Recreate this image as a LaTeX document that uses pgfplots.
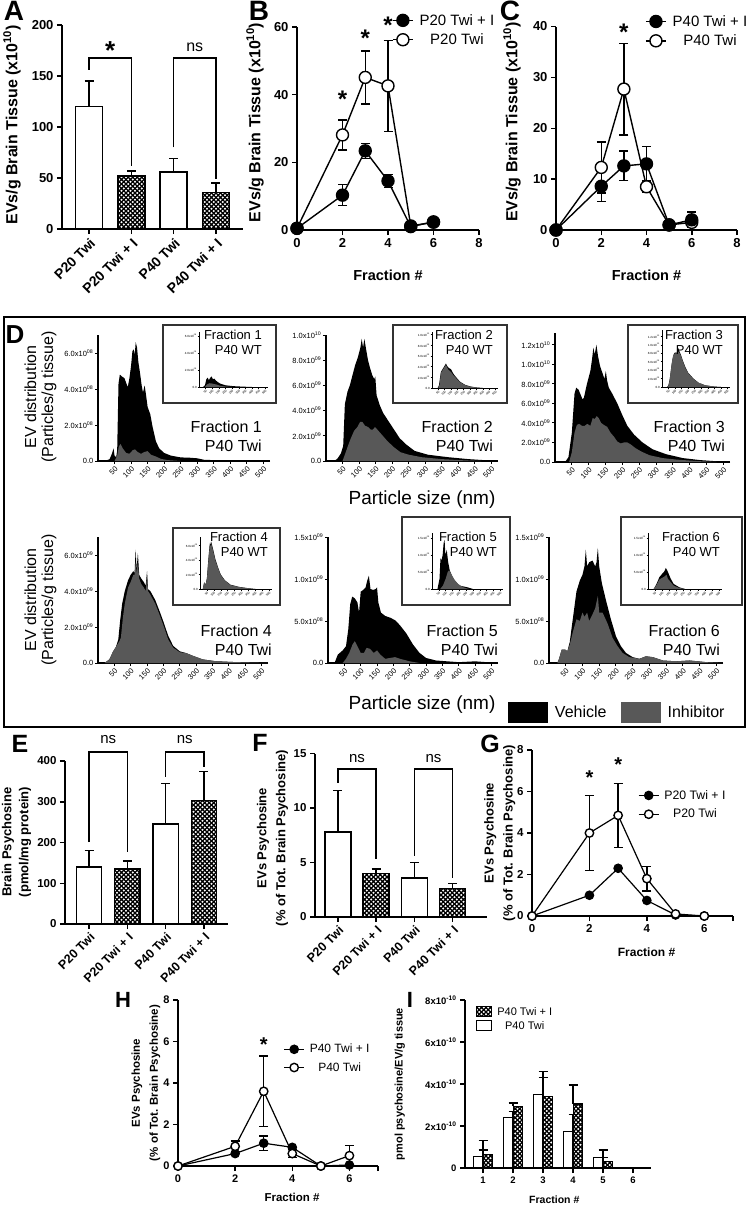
\documentclass[border=0pt]{standalone}
\usepackage{fontspec}
\setmainfont{Liberation Sans}
\usepackage{pgfplots}
\pgfplotsset{compat=1.18}
\usetikzlibrary{patterns}

\definecolor{inh}{RGB}{88,88,88}
\newcommand{\fs}[1]{\fontsize{#1}{#1}\selectfont}
\newcommand{\sci}[2]{#1x10\textsuperscript{#2}}

% black lattice with white diamonds (the "+ I" bars)
\pgfdeclarepatternformonly{diamonds}{\pgfqpoint{-1pt}{-1pt}}{\pgfqpoint{5.5pt}{5.5pt}}{\pgfqpoint{4.5pt}{4.5pt}}{%
  \pgfsetlinewidth{1.2pt}%
  \pgfpathmoveto{\pgfqpoint{-0.5pt}{-0.5pt}}\pgfpathlineto{\pgfqpoint{5pt}{5pt}}%
  \pgfpathmoveto{\pgfqpoint{-0.5pt}{5pt}}\pgfpathlineto{\pgfqpoint{5pt}{-0.5pt}}%
  \pgfusepath{stroke}}

\pgfplotsset{
  gp/.style={scale only axis, clip=false, anchor=south west,
    axis x line*=bottom, axis y line*=left,
    axis line style={line width=1.5pt}, every tick/.style={black, line width=1.5pt},
    tick align=outside, major tick length=5pt,
    /pgf/number format/assume math mode=true,
    tick label style={font=\bfseries\fs{13}}},
  wbar/.style={ybar, bar shift=0pt, bar width=0.64, fill=white, draw=black, line width=1.5pt},
  pbar/.style={ybar, bar shift=0pt, bar width=0.64, draw=black, line width=1.5pt, pattern=diamonds, pattern color=black},
  eb/.style={/pgfplots/error bars/y dir=#1, /pgfplots/error bars/y explicit,
    /pgfplots/error bars/error bar style={draw=black, line width=1.4pt, solid},
    /pgfplots/error bars/error mark options={draw=black, rotate=90, mark size=4.5pt, line width=1.4pt}},
  fld/.style={black, line width=1.4pt, mark=*, mark size=#1, mark options={fill=black, draw=black, solid}},
  fld/.default=6pt,
  opn/.style={black, line width=1.4pt, mark=*, mark size=#1, mark options={fill=white, draw=black, line width=1.4pt, solid}},
  opn/.default=6pt,
  lineleg/.style={legend image code/.code={\draw[mark repeat=2, mark phase=2, ##1] plot coordinates {(0pt,0pt) (10pt,0pt) (20pt,0pt)};}},
  dist/.style={scale only axis, clip=false, anchor=south west,
    axis x line*=bottom, axis y line*=left,
    axis line style={line width=1.1pt}, every tick/.style={black, line width=0.9pt},
    tick align=outside, major tick length=3pt,
    xmin=0, xmax=520, ymin=0, xtick={50,100,...,500},
    /pgf/number format/assume math mode=true,
    xticklabel style={rotate=45, anchor=north east, font=\fs{7.5}, inner sep=1pt},
    yticklabel style={font=\fs{7.5}, inner sep=1.5pt}},
  ins/.style={dist, axis line style={line width=0.7pt}, every tick/.style={black, line width=0.5pt},
    major tick length=1.5pt,
    xticklabel style={font=\fs{3}, inner sep=0.5pt},
    yticklabel style={font=\fs{3}, inner sep=0.6pt}},
  veh/.style={fill=black, draw=none},
  ih/.style={fill=inh, draw=none},
}

\begin{document}
\begin{tikzpicture}
\useasboundingbox (0pt,0pt) rectangle (750pt,-1210pt);

% ================= A =================
\begin{axis}[gp, at={(62pt,-229pt)}, width=181pt, height=204pt,
  xmin=-0.64, xmax=3.64, ymin=0, ymax=200, ytick={0,50,100,150,200}, xtick={0,1,2,3},
  xticklabels={P20 Twi, P20 Twi + I, P40 Twi, P40 Twi + I},
  xticklabel style={rotate=45, anchor=north east, font=\bfseries\fs{14}, inner sep=2pt},
  ylabel={EVs/g Brain Tissue (x10\textsuperscript{10})},
  ylabel style={at={(axis description cs:-0.276,0.51)}, anchor=center, font=\bfseries\fs{16}}]
\addplot[wbar, eb=plus] coordinates {(0,120) +- (0,25) (2,56) +- (0,13)};
\addplot[pbar, eb=plus] coordinates {(1,52) +- (0,5) (3,36) +- (0,9)};
\draw[line width=1.5pt] (axis cs:0,156) -- (axis cs:0,167.6) -- (axis cs:1,167.6) -- (axis cs:1,62);
\draw[line width=1.5pt] (axis cs:2,80) -- (axis cs:2,167.6) -- (axis cs:3,167.6) -- (axis cs:3,49);
\node[font=\bfseries\fs{26}, anchor=base, inner sep=0pt] at (axis cs:0.5,165.7) {*};
\node[font=\fs{16}, anchor=base, inner sep=0pt] at (axis cs:2.5,174) {ns};
\end{axis}
\node[font=\bfseries\fs{28}, anchor=north, inner sep=0pt] at (14pt,-1pt) {A};

% ================= B =================
\begin{axis}[gp, lineleg, at={(297pt,-230pt)}, width=182pt, height=203pt,
  xmin=0, xmax=8, ymin=0, ymax=60, xtick={0,2,4,6,8}, ytick={0,20,40,60},
  xlabel={Fraction \#}, xlabel style={at={(axis description cs:0.5,-0.222)}, anchor=center, font=\bfseries\fs{14.5}},
  ylabel={EVs/g Brain Tissue (x10\textsuperscript{10})},
  ylabel style={at={(axis description cs:-0.231,0.53)}, anchor=center, font=\bfseries\fs{16}},
  reverse legend,
  legend style={draw=none, fill=none, at={(axis description cs:0.522,1.074)}, anchor=north west,
    font=\fs{15}, row sep=3pt, inner sep=0pt, /tikz/every odd column/.append style={column sep=4pt}}]
\addplot[draw=none, forget plot, eb=both] coordinates {(2,28.1) +- (0,4.4) (3,45.1) +- (0,7.8) (4,42.6) +- (0,13.4)};
\addplot[draw=none, forget plot, eb=both] coordinates {(2,10.3) +- (0,3.1) (3,23.4) +- (0,2.2) (4,14.5) +- (0,1.9)};
\addplot[opn] coordinates {(0,0.5) (2,28.1) (3,45.1) (4,42.6) (5,1.2) (6,2.3)};
\addplot[fld] coordinates {(0,0.5) (2,10.3) (3,23.4) (4,14.5) (5,1.0) (6,2.4)};
\legend{P20 Twi, P20 Twi + I}
\node[font=\bfseries\fs{24}, anchor=base, inner sep=0pt] at (axis cs:2,36.1) {*};
\node[font=\bfseries\fs{24}, anchor=base, inner sep=0pt] at (axis cs:3,54.2) {*};
\node[font=\bfseries\fs{24}, anchor=base, inner sep=0pt] at (axis cs:4,58.0) {*};
\end{axis}
\node[font=\bfseries\fs{28}, anchor=north, inner sep=0pt] at (259pt,-1pt) {B};

% ================= C =================
\begin{axis}[gp, lineleg, at={(556pt,-230pt)}, width=181pt, height=203.5pt,
  xmin=0, xmax=8, ymin=0, ymax=40, xtick={0,2,4,6,8}, ytick={0,10,20,30,40},
  xlabel={Fraction \#}, xlabel style={at={(axis description cs:0.5,-0.222)}, anchor=center, font=\bfseries\fs{14.5}},
  ylabel={EVs/g Brain Tissue (x10\textsuperscript{10})},
  ylabel style={at={(axis description cs:-0.243,0.53)}, anchor=center, font=\bfseries\fs{16}},
  reverse legend,
  legend style={draw=none, fill=none, at={(axis description cs:0.492,1.066)}, anchor=north west,
    font=\fs{15}, row sep=3pt, inner sep=0pt, /tikz/every odd column/.append style={column sep=4pt}}]
\addplot[draw=none, forget plot, eb=both] coordinates {(2,12.3) +- (0,5.0) (3,27.7) +- (0,9.0) (4,8.5) +- (0,1.0) (6,1.5) +- (0,0.8)};
\addplot[draw=none, forget plot, eb=both] coordinates {(2,8.6) +- (0,3.0) (3,12.6) +- (0,2.9) (4,13.0) +- (0,3.4) (6,2.0) +- (0,1.5)};
\addplot[opn] coordinates {(0,0) (2,12.3) (3,27.7) (4,8.5) (5,1.0) (6,1.5)};
\addplot[fld] coordinates {(0,0) (2,8.6) (3,12.6) (4,13.0) (5,1.0) (6,2.0)};
\legend{P40 Twi, P40 Twi + I}
\node[font=\bfseries\fs{24}, anchor=base, inner sep=0pt] at (axis cs:3,37.2) {*};
\end{axis}
\node[font=\bfseries\fs{28}, anchor=north, inner sep=0pt] at (510pt,-1pt) {C};

% ================= D =================
\draw[line width=1.2pt] (4pt,-317pt) rectangle (745pt,-727pt);
\node[font=\bfseries\fs{26}] at (15pt,-335pt) {D};
\node[rotate=90, align=center, font=\fontsize{16}{17}\selectfont] at (40.5pt,-397pt) {EV distribution\\(Particles/g tissue)};
\node[rotate=90, align=center, font=\fontsize{16}{17}\selectfont] at (40.5pt,-600pt) {EV distribution\\(Particles/g tissue)};
\node[font=\fs{19}] at (422pt,-500pt) {Particle size (nm)};
\node[font=\fs{19}] at (422pt,-705pt) {Particle size (nm)};

% Fraction 1
\begin{axis}[dist, at={(98pt,-461pt)}, width=172pt, height=126pt, ymax=7, ytick={0,2,4,6},
  yticklabels={0.0,\sci{2.0}{08},\sci{4.0}{08},\sci{6.0}{08}}]
\addplot[veh] coordinates {(20,0) (35,0.1) (42,0.4) (47,0.7) (50,0.3) (55,0.2) (58,0.6) (62,4.3) (66,4.8) (72,4.7) (80,4.6) (86,4.3) (90,4.1) (95,4.6) (100,5.3) (104,6.1) (108,6.2) (111,5.9) (114,6.6) (118,6.3) (122,5.5) (127,4.9) (132,4.2) (136,3.8) (141,4.2) (145,3.7) (150,3.0) (158,2.6) (165,1.9) (175,1.1) (185,0.7) (200,0.45) (220,0.3) (250,0.2) (280,0.18) (300,0.15) (320,0.07) (360,0.04) (420,0.02) (520,0)} \closedcycle;
\addplot[ih] coordinates {(50,0) (58,0.3) (63,0.8) (68,0.95) (75,0.7) (85,0.45) (95,0.4) (105,0.6) (112,0.65) (120,0.5) (130,0.4) (140,0.5) (150,0.55) (160,0.35) (175,0.25) (190,0.12) (210,0.05) (250,0)} \closedcycle;
\end{axis}
\draw[line width=1.1pt, black!80, fill=white] (163pt,-325pt) rectangle (276pt,-403pt);
\begin{axis}[ins, at={(199pt,-387pt)}, width=69pt, height=55pt, ymax=6.5, ytick={0,2,4,6},
  yticklabels={0.0,\sci{2.0}{08},\sci{4.0}{08},\sci{6.0}{08}}]
\addplot[veh] coordinates {(30,0) (45,0.2) (55,0.9) (65,1.1) (75,0.8) (85,1.1) (95,1.25) (105,0.9) (115,1.0) (125,0.8) (140,0.6) (160,0.4) (200,0.2) (260,0.1) (320,0.05) (400,0)} \closedcycle;
\addplot[ih] coordinates {(45,0) (60,0.3) (80,0.45) (100,0.4) (130,0.3) (160,0.15) (200,0.05) (250,0)} \closedcycle;
\end{axis}
\node[anchor=east, align=right, inner sep=0pt, font=\fontsize{13}{15}\selectfont] at (262pt,-342.5pt) {Fraction 1\\P40 WT};
\node[anchor=east, align=right, inner sep=0pt, font=\fontsize{16}{19}\selectfont] at (262pt,-436.5pt) {Fraction 1\\P40 Twi};

% Fraction 2
\begin{axis}[dist, at={(326pt,-461pt)}, width=172pt, height=126pt, ymax=10, ytick={0,2,4,6,8,10},
  yticklabels={0.0,\sci{2.0}{09},\sci{4.0}{09},\sci{6.0}{09},\sci{8.0}{09},\sci{1.0}{10}}]
\addplot[veh] coordinates {(25,0) (35,0.2) (45,0.6) (52,1.2) (57,4.5) (65,5.5) (72,6.0) (80,6.8) (88,7.6) (96,8.2) (104,9.0) (108,9.7) (112,9.0) (116,9.7) (121,8.9) (127,8.0) (133,7.4) (140,6.8) (146,6.5) (149,6.7) (153,5.2) (163,4.4) (173,3.8) (188,3.2) (203,2.6) (223,1.8) (243,1.3) (268,0.8) (308,0.5) (370,0.3) (430,0.15) (490,0.05) (520,0)} \closedcycle;
\addplot[ih] coordinates {(50,0) (57,0.5) (65,1.1) (75,1.8) (85,2.4) (95,2.7) (103,3.1) (110,3.1) (118,2.8) (127,2.7) (135,2.5) (142,2.5) (148,2.7) (155,2.5) (165,2.2) (185,1.6) (205,1.1) (225,0.7) (250,0.5) (290,0.3) (350,0.15) (420,0.05) (470,0)} \closedcycle;
\end{axis}
\draw[line width=1.1pt, black!80, fill=white] (393pt,-325pt) rectangle (507pt,-403pt);
\begin{axis}[ins, at={(432pt,-388pt)}, width=66pt, height=56pt, ymax=10.5, ytick={0,2,4,6,8,10},
  yticklabels={0.0,\sci{2.0}{09},\sci{4.0}{09},\sci{6.0}{09},\sci{8.0}{09},\sci{1.0}{10}}]
\addplot[veh] coordinates {(45,0) (55,0.5) (70,3.0) (85,3.6) (100,4.2) (110,4.6) (120,4.1) (130,3.8) (150,3.5) (165,2.8) (180,2.3) (220,1.2) (260,0.6) (300,0.3) (350,0.1) (400,0)} \closedcycle;
\addplot[ih] coordinates {(50,0) (60,0.6) (70,2.8) (85,3.4) (100,4.0) (110,4.3) (120,3.8) (130,3.4) (150,3.0) (165,2.5) (180,2.1) (220,1.1) (260,0.55) (300,0.25) (350,0.1) (400,0)} \closedcycle;
\end{axis}
\node[anchor=east, align=right, inner sep=0pt, font=\fontsize{13}{15}\selectfont] at (493pt,-342.5pt) {Fraction 2\\P40 WT};
\node[anchor=east, align=right, inner sep=0pt, font=\fontsize{16}{19}\selectfont] at (493pt,-436.5pt) {Fraction 2\\P40 Twi};

% Fraction 3
\begin{axis}[dist, at={(555pt,-462pt)}, width=175pt, height=129pt, ymax=13.2, ytick={0,2,4,6,8,10,12},
  yticklabels={0.0,\sci{2.0}{09},\sci{4.0}{09},\sci{6.0}{09},\sci{8.0}{09},\sci{1.0}{10},\sci{1.2}{10}}]
\addplot[veh] coordinates {(30,0) (40,0.5) (50,3.0) (58,7.0) (63,7.6) (70,7.4) (76,6.9) (82,6.4) (86,6.6) (95,8.0) (105,9.3) (110,10.5) (114,11.7) (118,11.0) (123,12.0) (128,10.8) (134,9.8) (140,9.2) (147,8.5) (151,9.3) (155,8.3) (160,7.6) (170,7.0) (185,6.0) (200,4.8) (215,3.7) (235,2.8) (260,2.0) (290,1.3) (330,0.8) (380,0.4) (430,0.2) (490,0.05) (520,0)} \closedcycle;
\addplot[ih] coordinates {(42,0) (50,1.0) (58,3.0) (65,3.8) (72,3.9) (80,3.7) (88,3.7) (96,3.9) (105,3.7) (112,4.5) (118,4.4) (124,4.7) (130,4.5) (137,4.0) (145,3.8) (155,3.6) (165,3.0) (175,2.6) (185,2.1) (195,1.9) (205,2.0) (215,2.0) (225,1.8) (240,1.4) (255,1.1) (280,0.7) (320,0.4) (360,0.25) (420,0.1) (480,0)} \closedcycle;
\end{axis}
\draw[line width=1.1pt, black!80, fill=white] (628pt,-325pt) rectangle (738pt,-403pt);
\begin{axis}[ins, at={(662pt,-387pt)}, width=68pt, height=57pt, ymax=13.5, ytick={0,2,4,6,8,10,12},
  yticklabels={0.0,\sci{2.0}{09},\sci{4.0}{09},\sci{6.0}{09},\sci{8.0}{09},\sci{1.0}{10},\sci{1.2}{10}}]
\addplot[veh] coordinates {(40,0) (50,0.5) (60,2.0) (70,4.5) (80,6.5) (90,7.8) (100,8.2) (110,8.0) (120,8.8) (125,9.2) (135,8.3) (145,7.6) (160,6.2) (180,4.6) (200,3.4) (240,2.0) (280,1.0) (330,0.4) (400,0.1) (450,0)} \closedcycle;
\addplot[ih] coordinates {(45,0) (55,1.0) (65,3.2) (75,5.8) (85,7.4) (100,8.0) (110,7.9) (120,8.4) (130,8.3) (145,7.4) (160,6.0) (180,4.4) (200,3.3) (240,1.9) (280,1.0) (330,0.4) (400,0.1) (450,0)} \closedcycle;
\end{axis}
\node[anchor=east, align=right, inner sep=0pt, font=\fontsize{13}{15}\selectfont] at (723pt,-342.5pt) {Fraction 3\\P40 WT};
\node[anchor=east, align=right, inner sep=0pt, font=\fontsize{16}{19}\selectfont] at (725pt,-436.5pt) {Fraction 3\\P40 Twi};

% Fraction 4
\begin{axis}[dist, at={(98pt,-663pt)}, width=170pt, height=126pt, ymax=7, ytick={0,2,4,6},
  yticklabels={0.0,\sci{2.0}{09},\sci{4.0}{09},\sci{6.0}{09}}]
\addplot[veh] coordinates {(20,0) (35,0.2) (45,0.6) (55,0.9) (62,1.3) (68,2.4) (74,3.3) (82,4.0) (92,4.6) (100,4.9) (108,5.1) (112,5.0) (115,6.3) (118,5.2) (122,6.1) (126,4.9) (132,4.7) (140,4.5) (146,4.3) (150,5.1) (153,4.1) (160,4.0) (175,3.5) (190,2.8) (200,2.3) (215,1.5) (230,0.95) (250,0.65) (270,0.55) (290,0.4) (320,0.2) (360,0.1) (420,0.05) (520,0)} \closedcycle;
\addplot[ih] coordinates {(20,0) (35,0.2) (45,0.6) (55,0.9) (65,1.2) (70,1.4) (76,2.5) (82,3.3) (92,4.2) (100,4.5) (108,4.9) (112,4.9) (115,5.6) (118,5.0) (122,5.6) (126,4.7) (132,4.4) (140,4.2) (146,4.0) (150,4.9) (153,4.0) (160,3.8) (175,3.3) (190,2.6) (200,2.1) (215,1.3) (230,0.85) (250,0.6) (270,0.55) (290,0.4) (320,0.2) (360,0.1) (420,0.05) (520,0)} \closedcycle;
\end{axis}
\draw[line width=1.1pt, black!80, fill=white] (173pt,-528pt) rectangle (280pt,-605pt);
\begin{axis}[ins, at={(200pt,-589pt)}, width=72pt, height=52pt, ymax=7.2, ytick={0,2,4,6},
  yticklabels={0.0,\sci{2.0}{09},\sci{4.0}{09},\sci{6.0}{09}}]
\addplot[veh] coordinates {(20,0) (30,0.9) (35,0.9) (40,0.5) (50,1.5) (60,4.0) (68,5.8) (72,6.4) (76,6.0) (80,6.6) (88,6.0) (96,5.4) (110,4.2) (130,3.0) (150,2.0) (180,1.2) (220,0.6) (280,0.3) (350,0.1) (400,0)} \closedcycle;
\addplot[ih] coordinates {(20,0) (30,0.8) (35,0.8) (40,0.5) (50,1.4) (60,3.8) (68,5.5) (72,6.1) (76,5.8) (80,6.3) (88,5.8) (96,5.2) (110,4.0) (130,2.9) (150,1.9) (180,1.15) (220,0.55) (280,0.28) (350,0.1) (400,0)} \closedcycle;
\end{axis}
\node[anchor=east, align=right, inner sep=0pt, font=\fontsize{13}{15}\selectfont] at (268pt,-544.5pt) {Fraction 4\\P40 WT};
\node[anchor=east, align=right, inner sep=0pt, font=\fontsize{16}{19}\selectfont] at (272pt,-640.5pt) {Fraction 4\\P40 Twi};

% Fraction 5
\begin{axis}[dist, at={(328pt,-663pt)}, width=170pt, height=126pt, ymax=1.5, ytick={0,0.5,1,1.5},
  yticklabels={0.0,\sci{5.0}{08},\sci{1.0}{09},\sci{1.5}{09}}]
\addplot[veh] coordinates {(20,0) (30,0.1) (45,0.15) (55,0.2) (62,0.4) (68,0.7) (74,0.79) (82,0.77) (90,0.72) (95,0.6) (100,0.85) (108,0.87) (115,0.9) (120,0.98) (125,1.04) (130,0.88) (138,0.87) (146,0.88) (150,0.9) (154,0.72) (162,0.6) (175,0.56) (190,0.54) (205,0.51) (220,0.45) (240,0.35) (260,0.22) (280,0.12) (300,0.06) (330,0.03) (400,0.01) (450,0.02) (520,0)} \closedcycle;
\addplot[ih] coordinates {(45,0) (55,0.05) (65,0.12) (75,0.22) (82,0.26) (90,0.2) (100,0.12) (110,0.12) (118,0.18) (128,0.17) (140,0.12) (150,0.15) (160,0.1) (175,0.05) (190,0.06) (205,0.07) (220,0.05) (250,0.02) (280,0)} \closedcycle;
\end{axis}
\draw[line width=1.1pt, black!80, fill=white] (402pt,-517pt) rectangle (510pt,-605pt);
\begin{axis}[ins, at={(432pt,-589pt)}, width=71pt, height=56pt, ymax=1.65, ytick={0,0.5,1,1.5},
  yticklabels={0.0,\sci{5.0}{08},\sci{1.0}{09},\sci{1.5}{09}}]
\addplot[veh] coordinates {(40,0) (55,0.3) (62,0.9) (70,0.85) (78,1.0) (85,1.35) (92,1.45) (98,1.0) (108,1.15) (118,0.8) (130,0.55) (145,0.4) (165,0.25) (200,0.1) (260,0.05) (300,0)} \closedcycle;
\addplot[ih] coordinates {(60,0) (80,0.1) (100,0.3) (115,0.5) (125,0.55) (140,0.45) (160,0.3) (190,0.15) (230,0.05) (270,0)} \closedcycle;
\end{axis}
\node[anchor=east, align=right, inner sep=0pt, font=\fontsize{13}{15}\selectfont] at (497pt,-544.5pt) {Fraction 5\\P40 WT};
\node[anchor=east, align=right, inner sep=0pt, font=\fontsize{16}{19}\selectfont] at (498pt,-640.5pt) {Fraction 5\\P40 Twi};

% Fraction 6 (carries the Vehicle / Inhibitor legend)
\begin{axis}[dist, at={(549pt,-663pt)}, width=174pt, height=126pt, ymax=1.5, ytick={0,0.5,1,1.5},
  yticklabels={0.0,\sci{5.0}{08},\sci{1.0}{09},\sci{1.5}{09}},
  legend image code/.code={\fill[#1] (0pt,-10.5pt) rectangle (40pt,10.5pt);},
  legend columns=2,
  legend style={draw=none, fill=none, at={(axis description cs:-0.237,-0.393)}, anchor=west,
    font=\fs{16}, inner sep=0pt, /tikz/every odd column/.append style={column sep=5pt},
    /tikz/every even column/.append style={column sep=12pt}}]
\addplot[veh] coordinates {(25,0) (30,0.05) (38,0.16) (48,0.16) (55,0.14) (62,0.25) (72,0.55) (82,0.85) (92,0.98) (100,1.05) (106,1.15) (110,1.35) (114,1.15) (120,1.2) (130,1.22) (138,1.15) (142,1.2) (146,1.37) (150,1.15) (158,0.95) (170,0.75) (185,0.52) (200,0.32) (215,0.2) (230,0.12) (250,0.07) (270,0.05) (290,0.08) (310,0.07) (340,0.03) (380,0.02) (420,0.03) (470,0.01) (520,0)} \closedcycle;
\addplot[ih] coordinates {(25,0) (30,0.05) (38,0.16) (48,0.16) (55,0.14) (62,0.22) (72,0.38) (82,0.52) (92,0.5) (100,0.6) (106,0.55) (114,0.6) (120,0.5) (130,0.58) (138,0.65) (146,0.8) (150,0.6) (160,0.6) (175,0.47) (190,0.3) (205,0.2) (220,0.12) (240,0.07) (270,0.05) (290,0.08) (310,0.07) (340,0.03) (380,0.02) (420,0.03) (470,0.01) (520,0)} \closedcycle;
\legend{Vehicle, Inhibitor}
\end{axis}
\draw[line width=1.1pt, black!80, fill=white] (621pt,-517pt) rectangle (742pt,-605pt);
\begin{axis}[ins, at={(648pt,-589pt)}, width=74pt, height=56pt, ymax=1.65, ytick={0,0.5,1,1.5},
  yticklabels={0.0,\sci{5.0}{08},\sci{1.0}{09},\sci{1.5}{09}}]
\addplot[veh] coordinates {(40,0) (60,0.15) (80,0.35) (100,0.45) (115,0.52) (125,0.62) (135,0.55) (145,0.45) (160,0.3) (180,0.15) (220,0.05) (260,0)} \closedcycle;
\addplot[ih] coordinates {(40,0) (60,0.12) (80,0.28) (100,0.33) (120,0.38) (130,0.42) (140,0.3) (160,0.2) (180,0.1) (220,0.03) (260,0)} \closedcycle;
\end{axis}
\node[anchor=east, align=right, inner sep=0pt, font=\fontsize{13}{15}\selectfont] at (720pt,-544.5pt) {Fraction 6\\P40 WT};
\node[anchor=east, align=right, inner sep=0pt, font=\fontsize{16}{19}\selectfont] at (720pt,-640.5pt) {Fraction 6\\P40 Twi};

% ================= E =================
\begin{axis}[gp, at={(65pt,-924pt)}, width=163pt, height=163pt,
  xmin=-0.63, xmax=3.63, ymin=0, ymax=400, ytick={0,100,200,300,400}, xtick={0,1,2,3},
  xticklabels={P20 Twi, P20 Twi + I, P40 Twi, P40 Twi + I},
  tick label style={font=\bfseries\fs{11.5}},
  xticklabel style={rotate=45, anchor=north east, font=\bfseries\fs{12.5}, inner sep=2pt},
  ylabel={Brain Psychosine\\(pmol/mg protein)},
  ylabel style={at={(axis description cs:-0.298,0.503)}, anchor=center, align=center, font=\bfseries\fontsize{13}{17}\selectfont}]
\addplot[wbar, bar width=0.66, eb=plus] coordinates {(0,140) +- (0,40) (2,245) +- (0,100)};
\addplot[pbar, bar width=0.66, eb=plus] coordinates {(1,135) +- (0,20) (3,303) +- (0,72)};
\draw[line width=1.5pt] (axis cs:0,201) -- (axis cs:0,422) -- (axis cs:1,422) -- (axis cs:1,177);
\draw[line width=1.5pt] (axis cs:2,362) -- (axis cs:2,422) -- (axis cs:3,422) -- (axis cs:3,385);
\node[font=\fs{15}, anchor=base, inner sep=0pt] at (axis cs:0.5,442) {ns};
\node[font=\fs{15}, anchor=base, inner sep=0pt] at (axis cs:2.5,442) {ns};
\end{axis}
\node[font=\bfseries\fs{25}] at (20pt,-744pt) {E};

% ================= F =================
\begin{axis}[gp, at={(315pt,-917pt)}, width=172pt, height=163.5pt,
  xmin=-0.6, xmax=3.9, ymin=0, ymax=15, ytick={0,5,10,15}, xtick={0,1,2,3},
  xticklabels={P20 Twi, P20 Twi + I, P40 Twi, P40 Twi + I},
  tick label style={font=\bfseries\fs{11.5}},
  xticklabel style={rotate=45, anchor=north east, font=\bfseries\fs{12.5}, inner sep=2pt},
  ylabel={EVs Psychosine\\(\% of Tot. Brain Psychosine)},
  ylabel style={at={(axis description cs:-0.247,0.483)}, anchor=center, align=center, font=\bfseries\fontsize{13}{19}\selectfont}]
\addplot[wbar, bar width=0.68, eb=plus] coordinates {(0,7.8) +- (0,3.8) (2,3.6) +- (0,1.4)};
\addplot[pbar, bar width=0.68, eb=plus] coordinates {(1,4.0) +- (0,0.4) (3,2.6) +- (0,0.5)};
\draw[line width=1.5pt] (axis cs:0,12.3) -- (axis cs:0,13.6) -- (axis cs:1,13.6) -- (axis cs:1,5.3);
\draw[line width=1.5pt] (axis cs:2,5.6) -- (axis cs:2,13.6) -- (axis cs:3,13.6) -- (axis cs:3,3.6);
\node[font=\fs{15}, anchor=base, inner sep=0pt] at (axis cs:0.5,14.2) {ns};
\node[font=\fs{15}, anchor=base, inner sep=0pt] at (axis cs:2.5,14.2) {ns};
\end{axis}
\node[font=\bfseries\fs{25}] at (260pt,-743pt) {F};

% ================= G =================
\begin{axis}[gp, lineleg, at={(532pt,-916pt)}, width=201pt, height=166pt,
  xmin=0, xmax=7, ymin=0, ymax=8, xtick={0,2,4,6}, extra x ticks={7}, extra x tick labels={},
  ytick={0,2,4,6,8},
  tick label style={font=\bfseries\fs{11.5}},
  xlabel={Fraction \#}, xlabel style={at={(axis description cs:0.57,-0.217)}, anchor=center, font=\bfseries\fs{12}},
  ylabel={EVs Psychosine\\(\% of Tot. Brain Psychosine)},
  ylabel style={at={(axis description cs:-0.16,0.5)}, anchor=center, align=center, font=\bfseries\fontsize{13}{19}\selectfont},
  legend style={draw=none, fill=none, at={(axis description cs:0.527,0.771)}, anchor=north west,
    font=\fs{12.3}, row sep=4.4pt, inner sep=0pt, /tikz/every odd column/.append style={column sep=3pt}}]
\addplot[draw=none, forget plot, eb=both] coordinates {(2,4.0) +- (0,1.8) (3,4.85) +- (0,1.55) (4,1.8) +- (0,0.6)};
\addplot[fld=4.2pt, line width=1.2pt] coordinates {(0,0) (2,1.0) (3,2.3) (4,0.75) (5,0.05) (6,0)};
\addplot[opn=4.2pt, line width=1.2pt] coordinates {(0,0) (2,4.0) (3,4.85) (4,1.8) (5,0.1) (6,0)};
\legend{P20 Twi + I, P20 Twi}
\node[font=\bfseries\fs{20}, anchor=base, inner sep=0pt] at (axis cs:2,6.34) {*};
\node[font=\bfseries\fs{20}, anchor=base, inner sep=0pt] at (axis cs:3,6.96) {*};
\end{axis}
\node[font=\bfseries\fs{25}] at (490pt,-744pt) {G};

% ================= H =================
\begin{axis}[gp, lineleg, at={(178pt,-1166pt)}, width=200pt, height=166pt,
  xmin=0, xmax=7, ymin=0, ymax=8, xtick={0,2,4,6}, extra x ticks={7}, extra x tick labels={},
  ytick={0,2,4,6,8},
  axis line style={line width=1.3pt}, every tick/.style={black, line width=1.3pt},
  tick label style={font=\bfseries\fs{11}},
  xlabel={Fraction \#}, xlabel style={at={(axis description cs:0.57,-0.19)}, anchor=center, font=\bfseries\fs{11.5}},
  ylabel={EVs Psychosine\\(\% of Tot. Brain Psychosine)},
  ylabel style={at={(axis description cs:-0.16,0.5)}, anchor=center, align=center, font=\bfseries\fontsize{11.5}{18}\selectfont},
  legend style={draw=none, fill=none, at={(axis description cs:0.527,0.747)}, anchor=north west,
    font=\fs{12}, row sep=4pt, inner sep=0pt, /tikz/every odd column/.append style={column sep=3pt}}]
\addplot[draw=none, forget plot, eb=both] coordinates {(2,0.95) +- (0,0.25) (3,3.6) +- (0,1.7) (4,0.6) +- (0,0.2) (6,0.5) +- (0,0.5)};
\addplot[draw=none, forget plot, eb=both] coordinates {(3,1.1) +- (0,0.35)};
\addplot[fld=4.2pt, line width=1.2pt] coordinates {(0,0) (2,0.6) (3,1.1) (4,0.9) (5,0) (6,0.05)};
\addplot[opn=4.2pt, line width=1.2pt] coordinates {(0,0) (2,0.95) (3,3.6) (4,0.6) (5,0) (6,0.5)};
\legend{P40 Twi + I, P40 Twi}
\node[font=\bfseries\fs{20}, anchor=base, inner sep=0pt] at (axis cs:3,5.5) {*};
\end{axis}
\node[font=\bfseries\fs{22}] at (123pt,-1000pt) {H};

% ================= I =================
\begin{axis}[gp, at={(465pt,-1168pt)}, width=186pt, height=168pt,
  xmin=0.4, xmax=6.6, ymin=0, ymax=8, xtick={1,2,3,4,5,6}, ytick={0,2,4,6,8},
  yticklabels={0,\sci{2}{-10},\sci{4}{-10},\sci{6}{-10},\sci{8}{-10}},
  axis line style={line width=1.2pt}, every tick/.style={black, line width=1.2pt},
  tick label style={font=\bfseries\fs{9.5}},
  xlabel={Fraction \#}, xlabel style={at={(axis description cs:0.48,-0.19)}, anchor=center, font=\bfseries\fs{10.5}},
  ylabel={pmol psychosine/EV/g tissue},
  ylabel style={at={(axis description cs:-0.35,0.5)}, anchor=center, font=\bfseries\fs{11}},
  reverse legend,
  legend image code/.code={\draw[#1,/tikz/.cd,line width=1pt] (0pt,-4.5pt) rectangle (15pt,5pt);},
  legend style={draw=none, fill=none, at={(axis description cs:0.06,0.97)}, anchor=north west,
    font=\fs{11}, row sep=0.5pt, inner sep=0pt, /tikz/every odd column/.append style={column sep=3pt}}]
\addplot[ybar, bar shift=-0.17, bar width=0.32, fill=white, draw=black, line width=1.1pt, eb=plus]
  coordinates {(1,0.55) +- (0,0.3) (2,2.4) +- (0,0.3) (3,3.5) +- (0,0.8) (4,1.75) +- (0,0.8) (5,0.5) +- (0,0.35)};
\addplot[ybar, bar shift=0.17, bar width=0.32, draw=black, line width=1.1pt, pattern=diamonds, pattern color=black, eb=plus]
  coordinates {(1,0.65) +- (0,0.65) (2,2.95) +- (0,0.15) (3,3.4) +- (0,1.2) (4,3.05) +- (0,0.9) (5,0.3) +- (0,0.2)};
\legend{P40 Twi, P40 Twi + I}
\end{axis}
\node[font=\bfseries\fs{22}] at (410pt,-1000pt) {I};

\end{tikzpicture}
\end{document}
